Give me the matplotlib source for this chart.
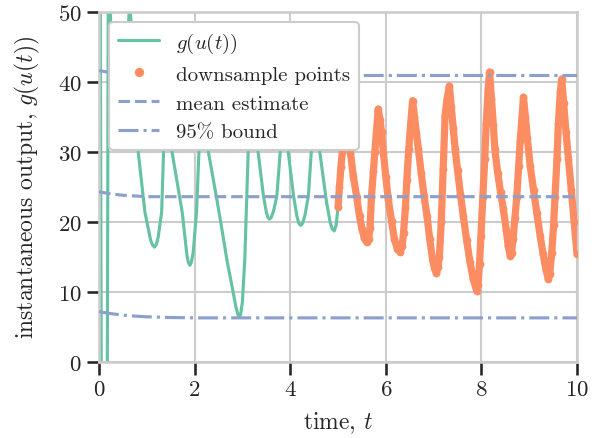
import matplotlib
matplotlib.use("Agg")
import matplotlib.pyplot as plt
import seaborn as sns

# g(u(t)); points outside 0..50 only steer the clipped spikes
t_curve = [0.00, 0.02, 0.05, 0.17, 0.20, 0.22, 0.25, 0.32, 0.45, 0.55, 0.60, 0.635, 0.68,
           0.82, 0.96, 1.08, 1.12, 1.16, 1.20, 1.24, 1.31, 1.35, 1.40, 1.53, 1.74, 1.84,
           1.87, 1.90, 1.93, 1.97, 2.04, 2.09, 2.14, 2.29, 2.45, 2.57, 2.68, 2.78, 2.86,
           2.90, 2.93, 2.96, 3.00, 3.05, 3.12, 3.17, 3.33, 3.44, 3.50, 3.53, 3.56, 3.60,
           3.65, 3.72, 3.79, 3.83, 3.96, 4.07, 4.14, 4.18, 4.22, 4.26, 4.31, 4.38, 4.44,
           4.49, 4.62, 4.76, 4.84, 4.88, 4.92, 4.96,
           5.00, 5.03, 5.06, 5.09, 5.11, 5.13, 5.16, 5.21, 5.26, 5.32, 5.39, 5.45, 5.50,
           5.55, 5.60, 5.64, 5.67, 5.70, 5.74, 5.77, 5.81, 5.84, 5.88, 5.91, 5.95, 6.00,
           6.05, 6.12, 6.18, 6.24, 6.30, 6.34, 6.37, 6.41, 6.44, 6.48, 6.52, 6.56, 6.60,
           6.64, 6.68, 6.74, 6.80, 6.86, 6.92, 6.98, 7.02, 7.06, 7.09, 7.12, 7.16, 7.20,
           7.24, 7.28, 7.33, 7.37, 7.41, 7.45, 7.50, 7.56, 7.62, 7.69, 7.76, 7.83, 7.90,
           7.93, 7.96, 7.99, 8.03, 8.07, 8.10, 8.14, 8.17, 8.21, 8.25, 8.28, 8.34, 8.40,
           8.46, 8.52, 8.56, 8.60, 8.63, 8.66, 8.70, 8.74, 8.78, 8.81, 8.85, 8.88, 8.92,
           8.96, 9.02, 9.09, 9.16, 9.23, 9.29, 9.35, 9.40, 9.43, 9.47, 9.51, 9.54, 9.58,
           9.61, 9.65, 9.68, 9.72, 9.77, 9.82, 9.88, 9.94, 10.00]
g_curve = [-10.0, 70.0, -10.0, -10.0, 70.0, 70.0, 40.0, 35.5, 36.5, 40.0, 45.0, 51.0, 48.0,
           30.0, 21.4, 17.4, 16.7, 16.4, 16.8, 17.9, 21.4, 29.9, 40.0, 29.9, 21.4, 15.2,
           14.2, 13.8, 14.2, 15.6, 21.4, 29.9, 41.0, 29.9, 23.8, 19.0, 14.4, 10.9, 8.0,
           6.9, 6.4, 6.7, 8.6, 14.7, 29.9, 41.6, 29.9, 23.7, 21.4, 20.7, 20.4, 20.6,
           21.5, 23.7, 29.9, 39.3, 29.9, 23.7, 20.8, 19.8, 19.5, 19.8, 21.0, 23.7, 29.9,
           39.9, 29.9, 22.8, 19.8, 19.0, 18.7, 19.5,
           22.1, 25.0, 27.8, 30.0, 34.0, 39.3, 36.6, 32.6, 29.9, 26.5, 23.6, 20.8, 19.0,
           17.7, 17.1, 17.6, 19.2, 23.6, 27.2, 30.0, 33.4, 36.1, 34.6, 32.8, 29.8, 26.4,
           23.3, 20.1, 17.5, 16.2, 15.7, 16.5, 18.4, 22.0, 26.0, 30.4, 34.0, 37.3, 35.0,
           32.7, 30.4, 27.0, 23.7, 20.9, 17.5, 14.5, 13.3, 12.7, 13.5, 15.0, 20.0, 27.5,
           35.2, 37.5, 39.4, 36.4, 33.4, 30.4, 27.4, 24.0, 20.9, 17.4, 14.3, 11.8, 10.2,
           11.0, 14.0, 18.0, 23.6, 29.0, 34.0, 38.8, 41.4, 37.6, 33.8, 30.4, 27.0, 24.2,
           21.8, 18.8, 16.6, 15.2, 15.6, 17.5, 20.5, 23.6, 28.0, 31.5, 35.0, 37.8, 35.0,
           32.0, 28.0, 24.6, 21.2, 18.0, 15.4, 13.2, 11.8, 12.6, 15.5, 19.5, 23.6, 29.0,
           34.0, 38.5, 40.4, 37.0, 32.8, 29.0, 24.6, 20.0, 15.4]

t_down_start = 5.0

# running mean and 95% band
t_est = [0.0, 0.25, 0.5, 0.75, 1.0, 1.5, 2.0, 10.0]
mean_est = [24.3, 24.0, 23.8, 23.7, 23.6, 23.6, 23.6, 23.6]
upper_bound = [41.6, 41.3, 41.1, 41.0, 40.95, 40.9, 40.9, 40.9]
lower_bound = [7.2, 6.9, 6.7, 6.55, 6.45, 6.35, 6.3, 6.3]

sns.set_theme(context="talk", style="whitegrid")
plt.rcParams["font.family"] = "serif"
plt.rcParams["font.serif"] = ["cmr10", "DejaVu Serif"]
plt.rcParams["mathtext.fontset"] = "cm"
plt.rcParams["axes.formatter.use_mathtext"] = True

green, orange, blue = sns.color_palette("Set2")[:3]

fig = plt.figure(figsize=(5.99, 4.39), dpi=100)
ax = fig.add_axes([0.1653, 0.1731, 0.798, 0.7979])

t_down = [t for t in t_curve if t >= t_down_start]
g_down = [g for t, g in zip(t_curve, g_curve) if t >= t_down_start]

ax.plot(t_curve, g_curve, color=green, lw=2.25, label="$g(u(t))$", zorder=2)
ax.plot(t_down, g_down, color=orange, lw=5.2, solid_capstyle="round", zorder=3)
ax.plot(t_down, g_down, "o", color=orange, ms=5.6, mew=0, label="downsample points", zorder=3)
ax.plot(t_est, mean_est, "--", color=blue, lw=2.25, label="mean estimate", zorder=4)
ax.plot(t_est, upper_bound, "-.", color=blue, lw=2.25, label="95% bound", zorder=4)
ax.plot(t_est, lower_bound, "-.", color=blue, lw=2.25, zorder=4)

ax.set_xlim(0, 10)
ax.set_ylim(0, 50)
ax.set_xticks([0, 2, 4, 6, 8, 10])
ax.set_yticks([0, 10, 20, 30, 40, 50])
ax.tick_params(bottom=True, left=True)
ax.set_xlabel("time, $t$", fontsize=17, labelpad=8)
ax.set_ylabel("instantaneous output, $g(u(t))$", fontsize=17, labelpad=11)
ax.legend(loc="upper left", framealpha=1, fontsize=15, markerscale=1.2)

fig.savefig("out.png", dpi=100)
